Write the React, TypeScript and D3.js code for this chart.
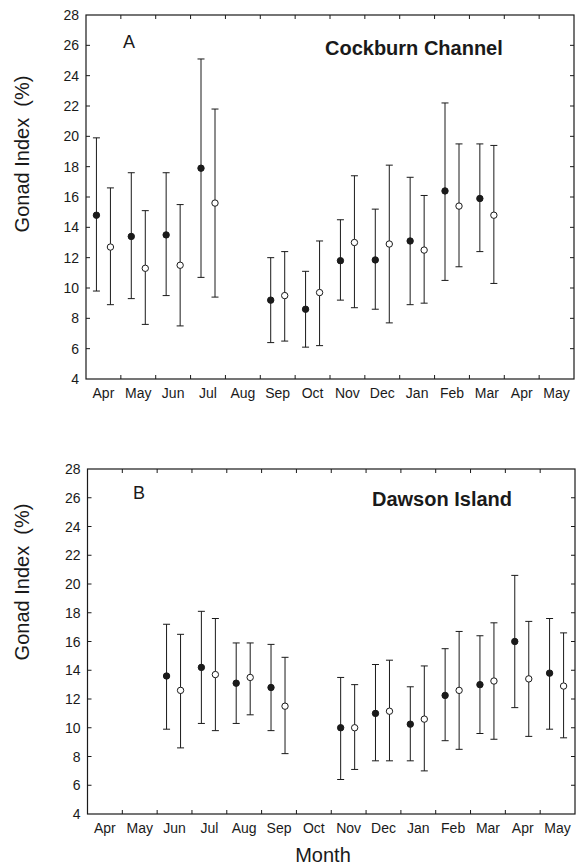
import React from "react";
import * as d3 from "d3";

const months = ["Apr", "May", "Jun", "Jul", "Aug", "Sep", "Oct", "Nov", "Dec", "Jan", "Feb", "Mar", "Apr", "May"];
const yTicks = [4, 6, 8, 10, 12, 14, 16, 18, 20, 22, 24, 26, 28];

// [monthIndex, mean, lower, upper]
const cockburnFilled: [number, number, number, number][] = [
  [0, 14.8, 9.8, 19.9],
  [1, 13.4, 9.3, 17.6],
  [2, 13.5, 9.5, 17.6],
  [3, 17.9, 10.7, 25.1],
  [5, 9.2, 6.4, 12.0],
  [6, 8.6, 6.1, 11.1],
  [7, 11.8, 9.2, 14.5],
  [8, 11.85, 8.6, 15.2],
  [9, 13.1, 8.9, 17.3],
  [10, 16.4, 10.5, 22.2],
  [11, 15.9, 12.4, 19.5],
];
const cockburnOpen: [number, number, number, number][] = [
  [0, 12.7, 8.9, 16.6],
  [1, 11.3, 7.6, 15.1],
  [2, 11.5, 7.5, 15.5],
  [3, 15.6, 9.4, 21.8],
  [5, 9.5, 6.5, 12.4],
  [6, 9.7, 6.2, 13.1],
  [7, 13.0, 8.7, 17.4],
  [8, 12.9, 7.7, 18.1],
  [9, 12.5, 9.0, 16.1],
  [10, 15.4, 11.4, 19.5],
  [11, 14.8, 10.3, 19.4],
];
const dawsonFilled: [number, number, number, number][] = [
  [2, 13.6, 9.9, 17.2],
  [3, 14.2, 10.3, 18.1],
  [4, 13.1, 10.3, 15.9],
  [5, 12.8, 9.8, 15.8],
  [7, 10.0, 6.4, 13.5],
  [8, 11.0, 7.7, 14.4],
  [9, 10.25, 7.7, 12.85],
  [10, 12.25, 9.1, 15.5],
  [11, 13.0, 9.6, 16.4],
  [12, 16.0, 11.4, 20.6],
  [13, 13.8, 9.9, 17.6],
];
const dawsonOpen: [number, number, number, number][] = [
  [2, 12.6, 8.6, 16.5],
  [3, 13.7, 9.8, 17.6],
  [4, 13.5, 10.9, 15.9],
  [5, 11.5, 8.2, 14.9],
  [7, 10.0, 7.1, 13.0],
  [8, 11.15, 7.7, 14.7],
  [9, 10.6, 7.0, 14.3],
  [10, 12.6, 8.5, 16.7],
  [11, 13.25, 9.2, 17.3],
  [12, 13.4, 9.4, 17.4],
  [13, 12.9, 9.3, 16.6],
];

const FONT = "'Liberation Sans', Arial, Helvetica, sans-serif";
const INK = "#1a1a1a";

type Row = [number, number, number, number];

function Panel(props: {
  x0: number; x1: number; y0: number; y1: number;
  letter: string; title: string; filled: Row[]; open: Row[];
  titleX: number; titleY: number; letterX: number; yTitleY: number; shift: number;
}) {
  const { x0, x1, y0, y1, letter, title, filled, open, titleX, titleY, letterX, yTitleY, shift } = props;
  const x = d3.scaleBand<number>().domain(d3.range(months.length)).range([x0, x1]).padding(0);
  const y = d3.scaleLinear().domain([4, 28]).range([y1, y0]);
  const bw = x.bandwidth();
  const cx = (i: number) => (x(i) as number) + bw / 2 + shift;
  const cap = 3.5;
  const tick = 4;
  const bars = (rows: Row[], dx: number, fill: string, key: string) =>
    rows.map((r) => {
      const px = cx(r[0]) + dx;
      return (
        <g key={key + r[0]}>
          <line x1={px} x2={px} y1={y(r[2])} y2={y(r[3])} stroke={INK} strokeWidth={1} />
          <line x1={px - cap} x2={px + cap} y1={y(r[3])} y2={y(r[3])} stroke={INK} strokeWidth={1} />
          <line x1={px - cap} x2={px + cap} y1={y(r[2])} y2={y(r[2])} stroke={INK} strokeWidth={1} />
          <circle cx={px} cy={y(r[1])} r={3.2} fill={fill} stroke={INK} strokeWidth={1} />
        </g>
      );
    });
  const boundaries = d3.range(1, months.length).map((i) => x(i) as number);
  return (
    <g>
      <rect x={x0} y={y0} width={x1 - x0} height={y1 - y0} fill="none" stroke={INK} strokeWidth={1.2} />
      {boundaries.map((bx, i) => (
        <g key={"xt" + i}>
          <line x1={bx} x2={bx} y1={y1} y2={y1 - tick} stroke={INK} />
          <line x1={bx} x2={bx} y1={y0} y2={y0 + tick} stroke={INK} />
        </g>
      ))}
      {yTicks.slice(1, -1).map((t) => (
        <g key={"yt" + t}>
          <line x1={x0} x2={x0 + tick} y1={y(t)} y2={y(t)} stroke={INK} />
          <line x1={x1} x2={x1 - tick} y1={y(t)} y2={y(t)} stroke={INK} />
        </g>
      ))}
      {yTicks.map((t) => (
        <text key={"yl" + t} x={x0 - 7} y={y(t)} dy="0.36em" textAnchor="end" fontSize={14} fontFamily={FONT} fill={INK}>
          {t}
        </text>
      ))}
      {months.map((m, i) => (
        <text key={"xl" + i} x={(x(i) as number) + bw / 2} y={y1 + 19} textAnchor="middle" fontSize={14} fontFamily={FONT} fill={INK}>
          {m}
        </text>
      ))}
      <text x={22} y={yTitleY} transform={`rotate(-90, 22, ${yTitleY})`} textAnchor="middle" dy="0.36em" fontSize={20} fontFamily={FONT} fill={INK} style={{ whiteSpace: "pre" }}>
        {"Gonad Index  (%)"}
      </text>
      <text x={letterX} y={titleY - 7} fontSize={18} fontFamily={FONT} fill={INK}>{letter}</text>
      <text x={titleX} y={titleY} fontSize={20} fontWeight="bold" fontFamily={FONT} fill={INK}>{title}</text>
      {bars(filled, -7, INK, "f")}
      {bars(open, 7, "#fff", "o")}
    </g>
  );
}

export default function App() {
  return (
    <svg width={577} height={865} style={{ position: "absolute", left: 0, top: 0, background: "#fff" }}>
      <Panel x0={86} x1={574} y0={15} y1={379} letter="A" title="Cockburn Channel" filled={cockburnFilled} open={cockburnOpen}
        titleX={325} titleY={55} letterX={123} yTitleY={154} shift={0} />
      <Panel x0={87.5} x1={575} y0={469} y1={814} letter="B" title="Dawson Island" filled={dawsonFilled} open={dawsonOpen}
        titleX={372} titleY={506} letterX={133} yTitleY={582} shift={-1} />
      <text x={323} y={862} textAnchor="middle" fontSize={20} fontFamily={FONT} fill={INK}>Month</text>
    </svg>
  );
}
